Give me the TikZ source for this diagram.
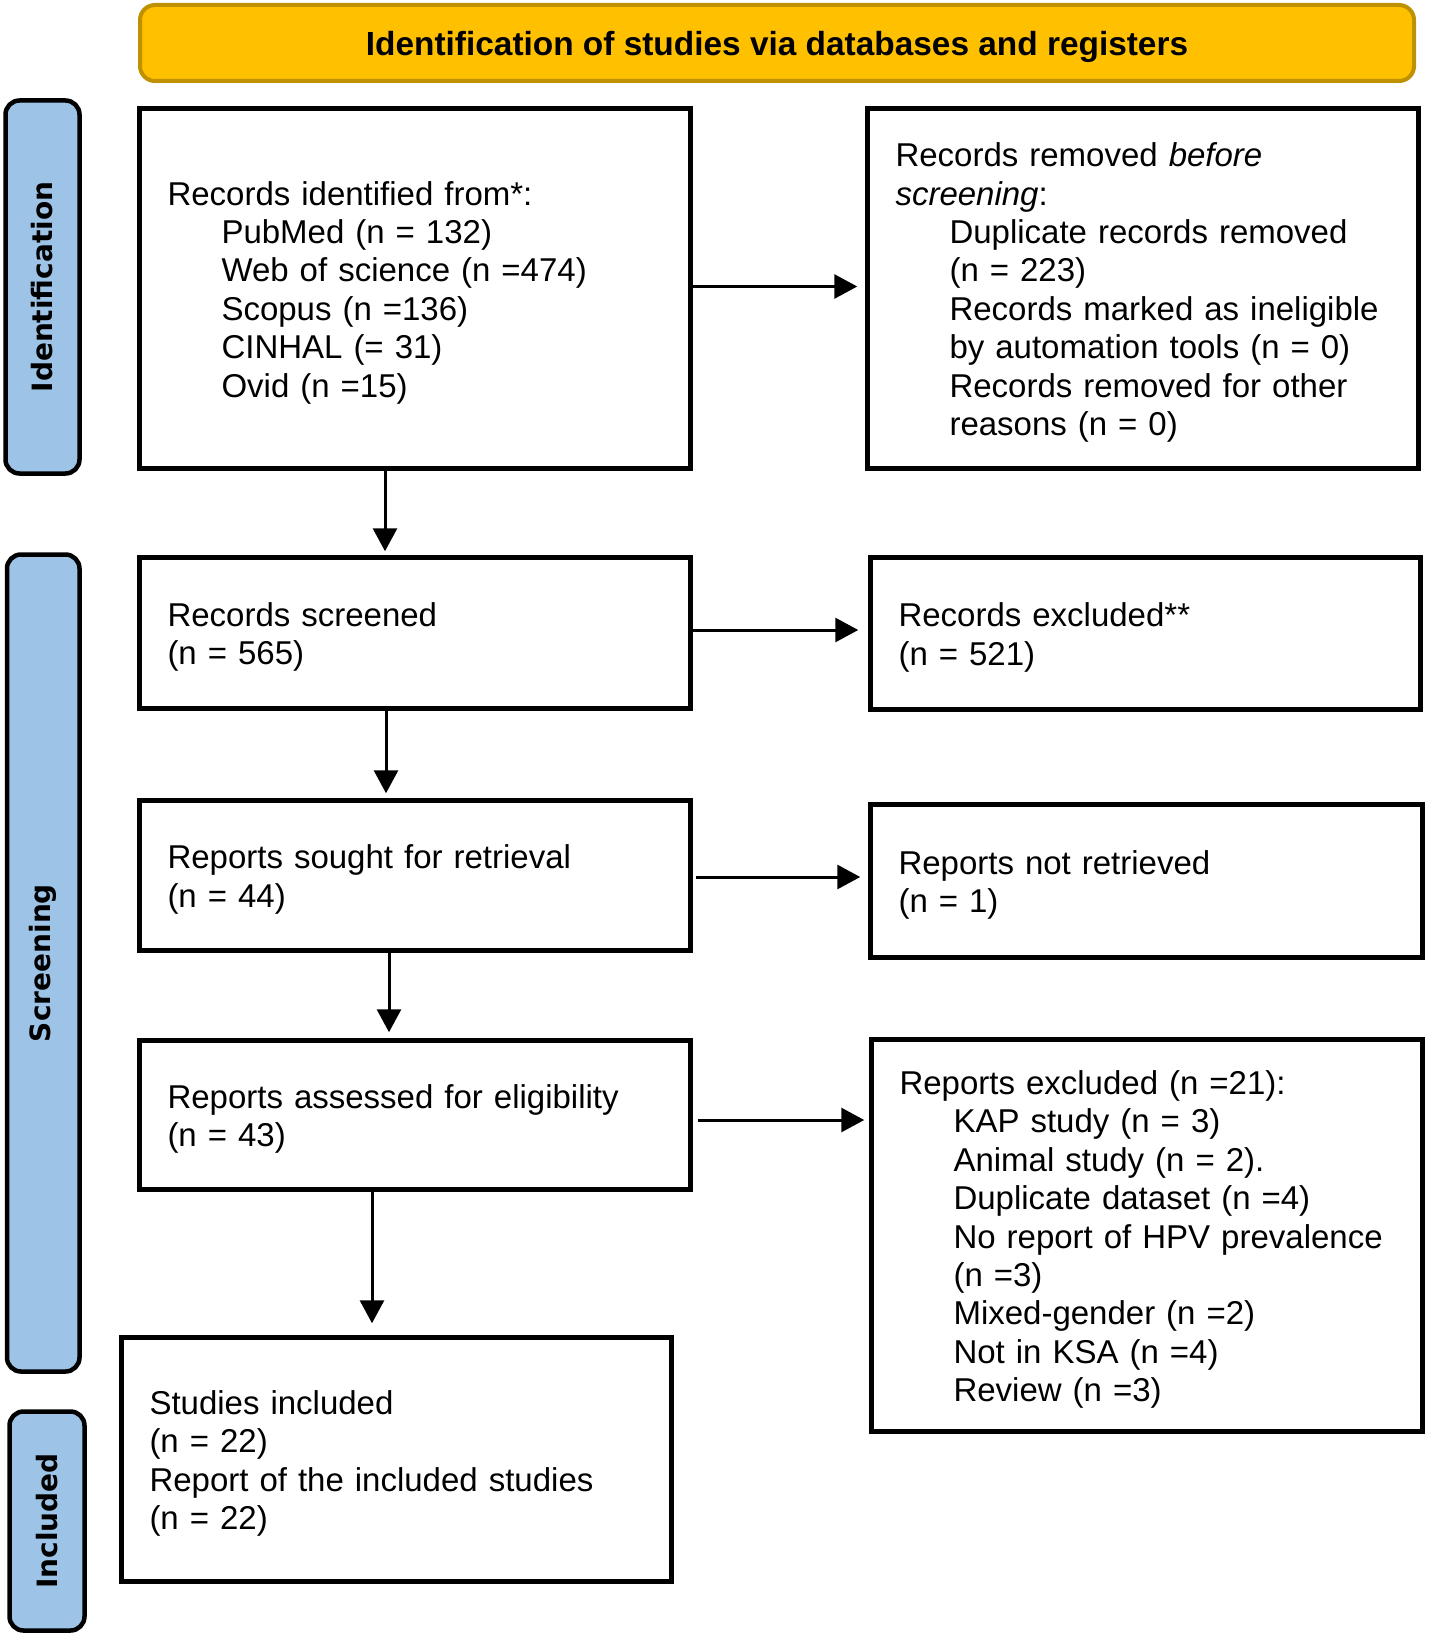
\documentclass[tikz,border=0pt]{standalone}
\usepackage{fontspec}
\setmainfont{Liberation Sans}
\newfontfamily\sidefont{DejaVu Sans}
\usetikzlibrary{arrows.meta,calc}
\definecolor{bannerfill}{HTML}{FFC000}
\definecolor{bannerline}{HTML}{BF9000}
\definecolor{sidefill}{HTML}{9DC3E6}
\newcommand{\indl}{\hspace*{54pt}}
\begin{document}
\begin{tikzpicture}[x=1pt,y=-1pt,
 box/.style={draw=black, line width=4.5pt, align=left, inner xsep=28pt, inner ysep=0pt,
   font=\fontsize{33}{38.4}\selectfont, execute at begin node={\rule{0pt}{32pt}}},
 arr/.style={line width=3pt, -{Triangle[length=23pt,width=24pt]}},
 sidebar/.style={draw=black, line width=4.5pt, fill=sidefill, rounded corners=14pt, inner sep=0pt},
 sidelabel/.style={rotate=90, inner sep=0pt, font=\sidefont\bfseries\fontsize{28}{30}\selectfont},
]
\useasboundingbox (0,0) rectangle (1429,1640);

% banner
\node[draw=bannerline, line width=4pt, fill=bannerfill, rounded corners=15pt,
  minimum width=1274pt, minimum height=76pt, inner sep=0pt, text height=32pt, text depth=7pt,
  font=\bfseries\fontsize{33.4}{36}\selectfont] (banner) at (777,43)
  {Identification of studies via databases and registers};

% side bars
\node[sidebar, minimum width=74pt, minimum height=373pt] (sid) at (42.5,287) {};
\node[sidelabel] (lid) at (sid.center) {Identification};
\node[sidebar, minimum width=72.5pt, minimum height=817pt] (sscr) at (43.25,963) {};
\node[sidelabel] (lscr) at (sscr.center) {Screening};
\node[sidebar, minimum width=75pt, minimum height=219pt] (sinc) at (47,1521) {};
\node[sidelabel] (linc) at (sinc.center) {Included};

% boxes
\node[box, text width=495pt, minimum height=360pt] (b1) at (415,288.5) {%
Records identified from*:\\
\indl PubMed (n = 132)\\
\indl Web of science (n =474)\\
\indl Scopus (n =136)\\
\indl CINHAL (= 31)\\
\indl Ovid (n =15)};

\node[box, text width=495pt, minimum height=360pt] (b2) at (1143,288.5) {%
Records removed \textit{before}\\
\textit{screening}:\\
\indl Duplicate records removed\\
\indl (n = 223)\\
\indl Records marked as ineligible\\
\indl by automation tools (n = 0)\\
\indl Records removed for other\\
\indl reasons (n = 0)};

\node[box, text width=495pt, minimum height=151pt] (b3) at (415,633) {%
Records screened\\
(n = 565)};

\node[box, text width=494pt, minimum height=152pt] (b4) at (1145.5,633.5) {%
Records excluded**\\
(n = 521)};

\node[box, text width=495pt, minimum height=150pt] (b5) at (415,875.5) {%
Reports sought for retrieval\\
(n = 44)};

\node[box, text width=496pt, minimum height=153pt] (b6) at (1146.5,881) {%
Reports not retrieved\\
(n = 1)};

\node[box, text width=495pt, minimum height=149pt] (b7) at (415,1115) {%
Reports assessed for eligibility\\
(n = 43)};

\node[box, text width=495pt, minimum height=392pt] (b8) at (1147,1235.5) {%
Reports excluded (n =21):\\
\indl KAP study (n = 3)\\
\indl Animal study (n = 2).\\
\indl Duplicate dataset (n =4)\\
\indl No report of HPV prevalence\\
\indl (n =3)\\
\indl Mixed-gender (n =2)\\
\indl Not in KSA (n =4)\\
\indl Review (n =3)};

\node[box, text width=494pt, minimum height=244pt] (b9) at (396.5,1459.5) {%
Studies included\\
(n = 22)\\
Report of the included studies\\
(n = 22)};

% horizontal arrows
\draw[arr, shorten >=8pt] ($(b1.east)+(0,-2)$) -- ($(b1.east -| b2.west)+(0,-2)$);
\draw[arr, shorten >=10pt] ($(b3.east)+(0,-3)$) -- ($(b3.east -| b4.west)+(0,-3)$);
\draw[arr, shorten >=8pt] ($(b5.east)+(3,1.5)$) -- ($(b5.east -| b6.west)+(0,1.5)$);
\draw[arr, shorten >=5pt] ($(b7.east)+(5,5)$) -- ($(b7.east -| b8.west)+(0,5)$);

% vertical arrows
\coordinate (v1) at ($(b1.south)+(-30,0)$);
\draw[arr, shorten >=4pt] (v1) -- (v1 |- b3.north);
\coordinate (v2) at ($(b3.south)+(-29,0)$);
\draw[arr, shorten >=5pt] (v2) -- (v2 |- b5.north);
\coordinate (v3) at ($(b5.south)+(-26,0)$);
\draw[arr, shorten >=6pt] (v3) -- (v3 |- b7.north);
\coordinate (v4) at ($(b7.south)+(-43,0)$);
\draw[arr, shorten >=12pt] (v4) -- (v4 |- b9.north);
\end{tikzpicture}
\end{document}
